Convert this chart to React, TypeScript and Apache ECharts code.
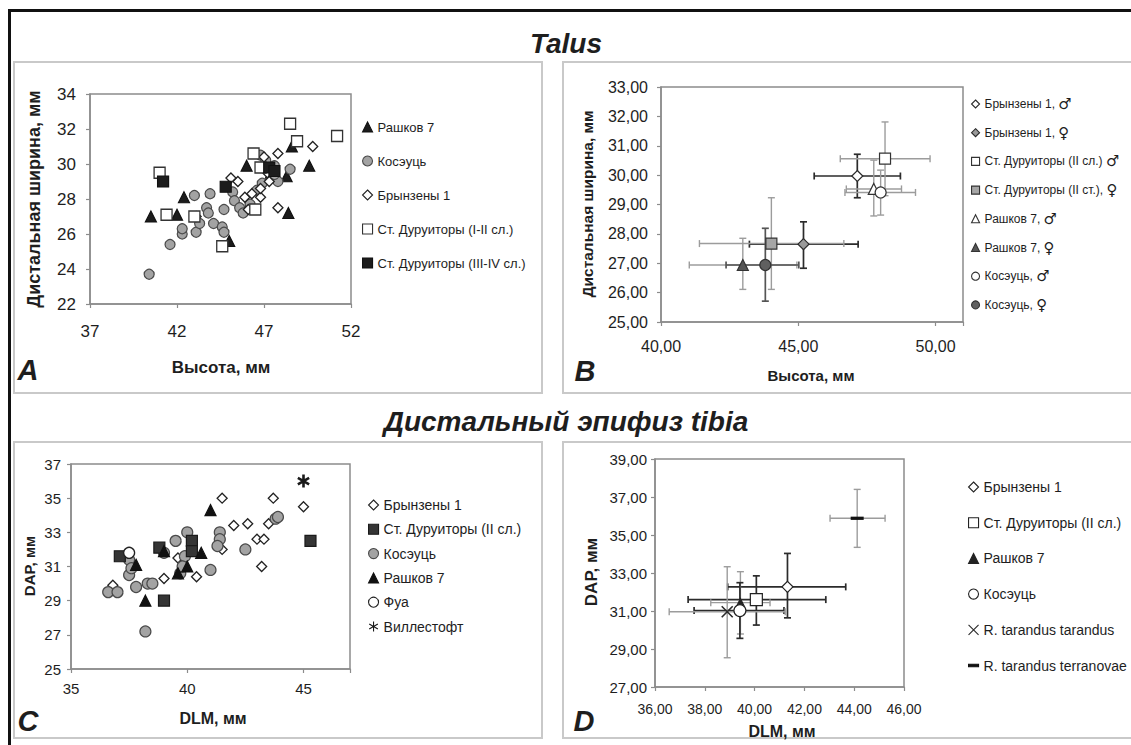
import React, { useEffect, useRef } from 'react';
import * as echarts from 'echarts';

// ---------- Panel A: Talus (Высота / Дистальная ширина) ----------
const aXTicks = [37, 42, 47, 52];
const aYTicks = [22, 24, 26, 28, 30, 32, 34];
const aLabels = ['Рашков 7', 'Косэуць', 'Брынзены 1', 'Ст. Дуруиторы (I-II сл.)', 'Ст. Дуруиторы (III-IV сл.)'];
const aRashkov = [[40.5, 27.0], [42.0, 27.1], [42.4, 28.1], [45.0, 25.6], [46.0, 29.9], [48.6, 31.0], [49.6, 29.9], [48.4, 27.2], [48.3, 29.3], [47.4, 29.5]];
const aKoseuts = [[40.4, 23.7], [41.6, 25.4], [42.3, 26.0], [42.3, 26.3], [43.1, 26.1], [43.0, 28.2], [43.9, 28.3], [43.7, 27.5], [43.8, 27.2], [43.3, 26.6], [44.1, 26.6], [44.7, 27.4], [44.6, 26.4], [44.7, 26.1], [45.2, 28.4], [45.3, 27.9], [45.6, 27.5], [45.8, 27.2], [46.2, 27.7], [46.6, 28.5], [46.9, 28.9], [46.8, 30.5], [47.1, 30.2], [47.6, 29.9], [47.8, 29.0], [48.5, 29.7], [47.6, 29.4]];
const aBryndzeny = [[49.8, 31.0], [47.8, 30.6], [45.5, 29.0], [45.1, 29.2], [45.9, 28.1], [46.3, 28.3], [46.8, 28.1], [46.8, 28.6], [47.3, 29.0], [47.2, 29.5], [47.8, 27.5], [43.1, 27.0], [47.0, 30.4], [46.1, 27.4]];
const aDuruitory12 = [[48.5, 32.3], [48.9, 31.3], [51.2, 31.6], [41.0, 29.5], [41.4, 27.1], [43.0, 27.0], [44.6, 25.3], [46.5, 27.4], [46.4, 30.6], [46.8, 29.8]];
const aDuruitory34 = [[41.2, 29.0], [44.8, 28.7], [47.3, 29.8], [47.6, 29.6]];

// ---------- Panel B: Talus, means with error bars ----------
const bXTicks = [40, 45, 50];
const bXMax = 51;
const bYTicks = [25, 26, 27, 28, 29, 30, 31, 32, 33];
const bLabels = ['Брынзены 1, ♂', 'Брынзены 1, ♀', 'Ст. Дуруиторы (II сл.) ♂', 'Ст. Дуруиторы (II ст.), ♀', 'Рашков 7, ♂', 'Рашков 7, ♀', 'Косэуць, ♂', 'Косэуць, ♀'];
const bMeanX = [47.15, 45.19, 48.16, 44.02, 47.75, 42.98, 48.0, 43.8];
const bMeanY = [29.97, 27.65, 30.56, 27.67, 29.53, 26.94, 29.41, 26.94];
const bXLow = [45.58, 43.22, 46.53, 41.4, 46.75, 41.03, 46.7, 42.37];
const bXHigh = [48.72, 47.18, 49.8, 46.66, 48.76, 44.95, 49.27, 45.02];
const bYLow = [29.23, 26.83, 29.3, 26.11, 28.61, 26.11, 28.64, 25.71];
const bYHigh = [30.71, 28.41, 31.81, 29.23, 30.51, 27.85, 30.17, 28.19];

// ---------- Panel C: tibia distal (DLM / DAP) ----------
const cXTicks = [35, 40, 45];
const cXMax = 47;
const cYTicks = [25, 27, 29, 31, 33, 35, 37];
const cLabels = ['Брынзены 1', 'Ст. Дуруиторы (II сл.)', 'Косэуць', 'Рашков 7', 'Фуа', 'Виллестофт'];
const cBryndzeny = [[41.5, 35.0], [43.7, 35.0], [45.0, 34.5], [42.0, 33.4], [42.6, 33.5], [43.5, 33.5], [43.0, 32.6], [43.3, 32.6], [43.2, 31.0], [41.5, 32.0], [40.4, 30.4], [39.0, 30.3], [36.8, 29.9], [39.6, 31.5]];
const cDuruitory = [[37.1, 31.6], [38.8, 32.1], [40.2, 32.5], [40.2, 31.9], [39.0, 29.0], [45.3, 32.5]];
const cKoseuts = [[43.8, 33.8], [43.9, 33.9], [42.5, 32.0], [41.4, 33.0], [41.4, 32.6], [41.3, 32.2], [40.0, 33.0], [39.5, 32.5], [39.9, 31.6], [39.7, 30.6], [39.8, 31.0], [41.0, 30.8], [37.5, 31.4], [37.5, 30.5], [37.6, 30.9], [37.8, 29.8], [38.3, 30.0], [38.5, 30.0], [36.6, 29.5], [37.0, 29.5], [38.2, 27.2], [39.0, 31.8]];
const cRashkov = [[41.0, 34.3], [37.8, 31.1], [38.2, 29.0], [40.6, 31.8], [39.6, 30.6], [40.0, 31.0], [39.0, 31.9]];
const cFua = [[37.5, 31.8]];
const cVillestoft = [[45.0, 36.0]];

// ---------- Panel D: tibia distal, means with error bars ----------
const dXTicks = [36, 38, 40, 42, 44, 46];
const dYTicks = [27, 29, 31, 33, 35, 37, 39];
const dLabels = ['Брынзены 1', 'Ст. Дуруиторы (II сл.)', 'Рашков 7', 'Косэуць', 'R. tarandus tarandus', 'R. tarandus terranovae'];
const dMeanX = [41.32, 40.07, 39.43, 39.41, 38.9, 44.12];
const dMeanY = [32.27, 31.6, 31.44, 31.02, 30.96, 35.88];
const dXLow = [38.92, 37.33, 38.24, 37.57, 36.57, 43.03];
const dXHigh = [43.66, 42.86, 40.62, 41.18, 41.23, 45.24];
const dYLow = [30.64, 30.26, 29.79, 29.56, 28.54, 34.35];
const dYHigh = [34.03, 32.85, 33.07, 32.49, 33.33, 37.4];

// ---------- styles ----------
const FONT = "'Liberation Sans', Arial, sans-serif";
const LEG_FONT = "'Liberation Sans', 'DejaVu Sans', Arial, sans-serif";
const TXT = '#1e1e1e';
const AXC = '#8c8c8c';
const DARK_BAR = '#2b2b2b';
const MID_BAR = '#555555';
const LIGHT_BAR = '#9c9c9c';
const X_PATH = 'path://M0,0L10,10M10,0L0,10';
const DASH_PATH = 'path://M0,0H12V3H0Z';
const STAR_PATH = 'path://M5,0L5,10M0.67,2.5L9.33,7.5M0.67,7.5L9.33,2.5';

type Sty = { symbol: string; size: number; fill: string; border: string; bw?: number; bar?: string };

const bStyles: Sty[] = [
  { symbol: 'diamond', size: 11, fill: '#ffffff', border: '#2a2a2a', bar: DARK_BAR },
  { symbol: 'diamond', size: 11, fill: '#9a9a9a', border: '#2a2a2a', bar: DARK_BAR },
  { symbol: 'rect', size: 11, fill: '#ffffff', border: '#333333', bar: LIGHT_BAR },
  { symbol: 'rect', size: 11, fill: '#a6a6a6', border: '#333333', bar: LIGHT_BAR },
  { symbol: 'triangle', size: 11, fill: '#ffffff', border: '#333333', bar: LIGHT_BAR },
  { symbol: 'triangle', size: 11, fill: '#555555', border: '#333333', bar: LIGHT_BAR },
  { symbol: 'circle', size: 11, fill: '#ffffff', border: '#333333', bar: LIGHT_BAR },
  { symbol: 'circle', size: 11, fill: '#606060', border: '#333333', bar: MID_BAR },
];
const dStyles: Sty[] = [
  { symbol: 'diamond', size: 11, fill: '#ffffff', border: '#222222', bar: DARK_BAR },
  { symbol: 'rect', size: 12, fill: '#ffffff', border: '#222222', bar: DARK_BAR },
  { symbol: 'triangle', size: 8, fill: '#222222', border: '#222222', bar: LIGHT_BAR },
  { symbol: 'circle', size: 12, fill: '#ffffff', border: '#222222', bar: DARK_BAR },
  { symbol: X_PATH, size: 11, fill: 'rgba(0,0,0,0)', border: '#2a2a2a', bw: 1.6, bar: LIGHT_BAR },
  { symbol: DASH_PATH, size: 13, fill: '#111111', border: '#111111', bw: 0, bar: LIGHT_BAR },
];

const dec2 = (v: number) => v.toFixed(2).replace('.', ',');
const onStep = (v: number, ticks: number[]) => ticks.some((t) => Math.abs(t - v) < 1e-6);

function scatter(name: string, idx: number, data: number[][], s: Sty, z = 3) {
  return {
    type: 'scatter',
    name,
    xAxisIndex: idx,
    yAxisIndex: idx,
    data,
    symbol: s.symbol,
    symbolSize: s.size,
    symbolKeepAspect: true,
    itemStyle: { color: s.fill, borderColor: s.border, borderWidth: s.bw ?? 1.2, opacity: 1 },
    emphasis: { disabled: true },
    z,
  };
}

function errorBars(idx: number, rows: (number | string)[][]) {
  return {
    type: 'custom',
    xAxisIndex: idx,
    yAxisIndex: idx,
    silent: true,
    z: 1,
    encode: { x: [0, 2, 3], y: [1, 4, 5] },
    data: rows,
    renderItem: (params: any, api: any) => {
      const x = api.value(0), y = api.value(1);
      const c = api.coord([x, y]);
      const xl = api.coord([api.value(2), y])[0];
      const xh = api.coord([api.value(3), y])[0];
      const yl = api.coord([x, api.value(4)])[1];
      const yh = api.coord([x, api.value(5)])[1];
      const color = rows[params.dataIndex][6] as string;
      const lw = color === LIGHT_BAR ? 1.4 : 1.7;
      const cap = 3.5;
      const st = { stroke: color, lineWidth: lw };
      const ln = (x1: number, y1: number, x2: number, y2: number) => ({ type: 'line', shape: { x1, y1, x2, y2 }, style: st });
      return {
        type: 'group',
        children: [
          ln(xl, c[1], xh, c[1]),
          ln(xl, c[1] - cap, xl, c[1] + cap),
          ln(xh, c[1] - cap, xh, c[1] + cap),
          ln(c[0], yl, c[0], yh),
          ln(c[0] - cap, yl, c[0] + cap, yl),
          ln(c[0] - cap, yh, c[0] + cap, yh),
        ],
      };
    },
  };
}

function axis(idx: number, ticks: number[], max: number, fmt: (v: number) => string, fontSize: number, margin: number) {
  return {
    type: 'value',
    gridIndex: idx,
    min: ticks[0],
    max,
    interval: ticks[1] - ticks[0],
    axisLine: { show: true, onZero: false, lineStyle: { color: AXC, width: 1.5 } },
    axisTick: { show: true, length: 4, lineStyle: { color: AXC, width: 1.2 } },
    splitLine: { show: false },
    axisLabel: { color: TXT, fontSize, fontFamily: FONT, margin, formatter: (v: number) => (onStep(v, ticks) ? fmt(v) : '') },
  };
}

function legend(prefix: string, labels: string[], left: number, top: number, icon: number, lh: number, gap: number, fontSize: number, sex = false) {
  return {
    orient: 'vertical',
    left,
    top,
    padding: 0,
    itemWidth: icon,
    itemHeight: icon,
    itemGap: gap,
    selectedMode: false,
    data: labels.map((l) => prefix + l),
    formatter: (n: string) => {
      const t = n.slice(prefix.length);
      if (!sex) return t;
      return t.replace(/([♂♀])/g, '{s|$1}');
    },
    itemStyle: { borderWidth: 1.1 },
    textStyle: {
      color: TXT,
      fontSize,
      fontFamily: LEG_FONT,
      lineHeight: lh,
      rich: { s: { fontSize: fontSize + 3, fontWeight: 'bold', fontFamily: "'DejaVu Sans', sans-serif", lineHeight: lh, color: TXT } },
    },
  };
}

function txt(text: string, x: number, y: number, fontSize: number, opts: any = {}) {
  return {
    type: 'text',
    x,
    y,
    rotation: opts.rotation || 0,
    silent: true,
    style: {
      text,
      fill: TXT,
      fontSize,
      fontWeight: 'bold',
      fontStyle: opts.italic ? 'italic' : 'normal',
      fontFamily: FONT,
      align: 'center',
      verticalAlign: 'middle',
    },
  };
}

function panelRect(x: number, y: number, w: number, h: number) {
  return { type: 'rect', silent: true, shape: { x, y, width: w, height: h }, style: { fill: 'rgba(0,0,0,0)', stroke: '#c9c9c9', lineWidth: 2 } };
}

function buildOption() {
  const series: any[] = [];
  const aData = [aRashkov, aKoseuts, aBryndzeny, aDuruitory12, aDuruitory34];
  const aStyles: Sty[] = [
    { symbol: 'triangle', size: 11, fill: '#1c1c1c', border: '#111111' },
    { symbol: 'circle', size: 10, fill: '#a3a3a3', border: '#4a4a4a' },
    { symbol: 'diamond', size: 10, fill: '#ffffff', border: '#222222', bw: 1.3 },
    { symbol: 'rect', size: 11, fill: '#ffffff', border: '#333333', bw: 1.3 },
    { symbol: 'rect', size: 11, fill: '#1c1c1c', border: '#111111' },
  ];
  aLabels.forEach((l, i) => series.push(scatter('A|' + l, 0, aData[i], aStyles[i], 3 + i)));

  series.push(errorBars(1, bLabels.map((_, i) => [bMeanX[i], bMeanY[i], bXLow[i], bXHigh[i], bYLow[i], bYHigh[i], bStyles[i].bar as string])));
  bLabels.forEach((l, i) => series.push(scatter('B|' + l, 1, [[bMeanX[i], bMeanY[i]]], bStyles[i], 3 + i)));

  const cData = [cBryndzeny, cDuruitory, cKoseuts, cRashkov, cFua, cVillestoft];
  const cStyles: Sty[] = [
    { symbol: 'diamond', size: 10, fill: '#ffffff', border: '#222222', bw: 1.3 },
    { symbol: 'rect', size: 11, fill: '#353535', border: '#1a1a1a' },
    { symbol: 'circle', size: 11, fill: '#a3a3a3', border: '#4a4a4a' },
    { symbol: 'triangle', size: 11, fill: '#111111', border: '#111111' },
    { symbol: 'circle', size: 11, fill: '#ffffff', border: '#222222', bw: 1.3 },
    { symbol: STAR_PATH, size: 13, fill: 'rgba(0,0,0,0)', border: '#1a1a1a', bw: 2.6 },
  ];
  const cZ = [3, 5, 4, 6, 7, 8];
  cLabels.forEach((l, i) => series.push(scatter('C|' + l, 2, cData[i], cStyles[i], cZ[i])));

  series.push(errorBars(3, dLabels.map((_, i) => [dMeanX[i], dMeanY[i], dXLow[i], dXHigh[i], dYLow[i], dYHigh[i], dStyles[i].bar as string])));
  dLabels.forEach((l, i) => series.push(scatter('D|' + l, 3, [[dMeanX[i], dMeanY[i]]], dStyles[i], 3 + i)));

  const gridBase = { show: true, borderColor: AXC, borderWidth: 1.5, backgroundColor: 'rgba(0,0,0,0)', containLabel: false };
  const str = (v: number) => String(v);

  return {
    animation: false,
    backgroundColor: '#ffffff',
    grid: [
      { ...gridBase, left: 90, top: 94, width: 261, height: 210 },
      { ...gridBase, left: 661, top: 87, width: 302, height: 235 },
      { ...gridBase, left: 71, top: 464, width: 279, height: 205 },
      { ...gridBase, left: 655, top: 459, width: 249, height: 228 },
    ],
    xAxis: [
      axis(0, aXTicks, aXTicks[aXTicks.length - 1], str, 17, 19),
      axis(1, bXTicks, bXMax, dec2, 16, 16),
      axis(2, cXTicks, cXMax, str, 15, 12),
      axis(3, dXTicks, dXTicks[dXTicks.length - 1], dec2, 14, 15),
    ],
    yAxis: [
      axis(0, aYTicks, aYTicks[aYTicks.length - 1], str, 17, 14),
      axis(1, bYTicks, bYTicks[bYTicks.length - 1], dec2, 16, 13),
      axis(2, cYTicks, cYTicks[cYTicks.length - 1], str, 15, 10),
      axis(3, dYTicks, dYTicks[dYTicks.length - 1], dec2, 15, 8),
    ],
    legend: [
      legend('A|', aLabels, 362, 120, 10, 14, 20, 13),
      legend('B|', bLabels, 971, 96.5, 8, 13, 13.7, 12, true),
      legend('C|', cLabels, 368, 498, 10, 14, 10.3, 14),
      legend('D|', dLabels, 968, 480, 10, 14, 21.7, 14),
    ],
    graphic: {
      elements: [
        { type: 'rect', silent: true, shape: { x: 8, y: 9, width: 1130, height: 3 }, style: { fill: '#111111' } },
        { type: 'rect', silent: true, shape: { x: 8, y: 9, width: 3, height: 740 }, style: { fill: '#111111' } },
        panelRect(14, 62, 528, 331),
        panelRect(563, 62, 580, 331),
        panelRect(14, 442, 528, 296),
        panelRect(563, 442, 580, 296),
        txt('Talus', 566, 43, 28, { italic: true }),
        txt('Дистальный эпифиз tibia', 566, 421, 28, { italic: true }),
        txt('Дистальная ширина, мм', 34, 199, 18, { rotation: Math.PI / 2 }),
        txt('Высота, мм', 221, 367, 17),
        txt('A', 28, 370, 29, { italic: true }),
        txt('Дистальная ширина, мм', 587, 204, 15.5, { rotation: Math.PI / 2 }),
        txt('Высота, мм', 811, 375, 15),
        txt('B', 585, 371, 29, { italic: true }),
        txt('DAP, мм', 29, 566, 15, { rotation: Math.PI / 2 }),
        txt('DLM, мм', 213, 718, 16),
        txt('C', 28, 721, 29, { italic: true }),
        txt('DAP, мм', 591, 572, 17, { rotation: Math.PI / 2 }),
        txt('DLM, мм', 782, 731, 16),
        txt('D', 584, 721, 29, { italic: true }),
      ],
    },
    series,
  };
}

export default function App() {
  const ref = useRef<HTMLDivElement>(null);
  useEffect(() => {
    if (!ref.current) return;
    const chart = echarts.init(ref.current, undefined, { renderer: 'svg' });
    chart.setOption(buildOption() as any);
    return () => chart.dispose();
  }, []);
  return <div ref={ref} style={{ position: 'absolute', left: 0, top: 0, width: 1131, height: 745, background: '#fff' }} />;
}
